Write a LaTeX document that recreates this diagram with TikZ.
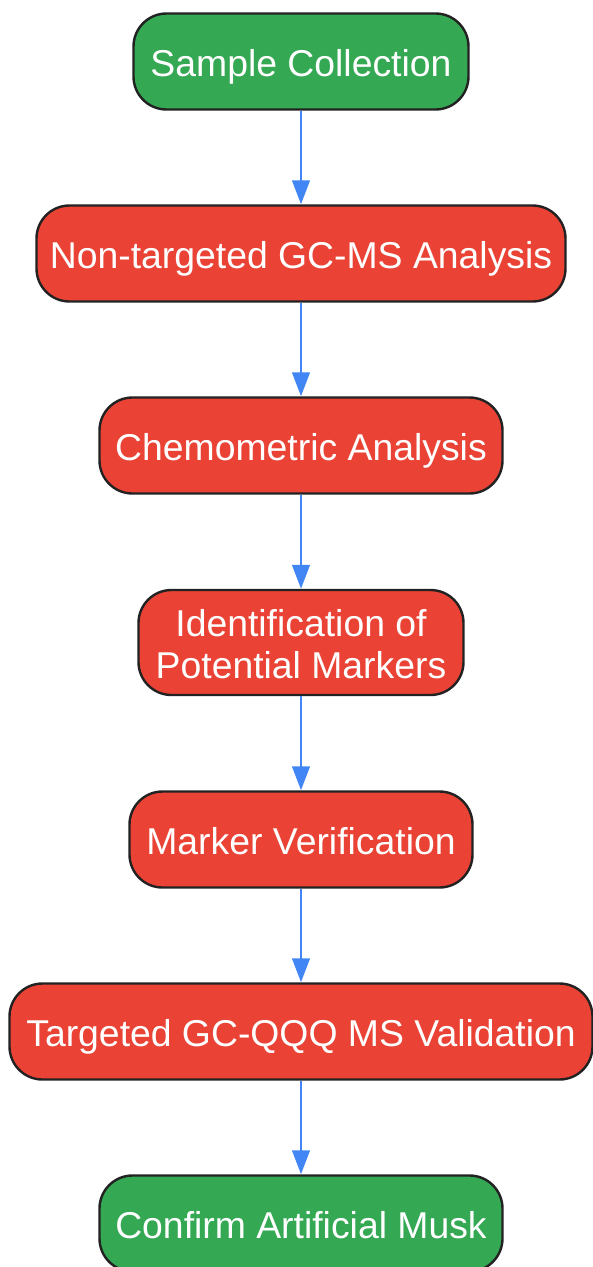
\documentclass[tikz,border=0pt]{standalone}
\usepackage{fontspec}
\setmainfont{Liberation Sans}
\usetikzlibrary{arrows.meta}
\definecolor{gr}{HTML}{34A853}
\definecolor{rd}{HTML}{EA4335}
\definecolor{bl}{HTML}{4285F4}
\definecolor{ed}{HTML}{222222}
\tikzset{x=1pt,y=-1pt,
 flowbox/.style={draw=ed,line width=2.4pt,rounded corners=33pt,text=white,align=center,font=\fontsize{37.35}{42}\selectfont,inner sep=0pt,anchor=center},
 oneline/.style={flowbox,minimum height=96pt,text height=35pt,text depth=6pt},
 conn/.style={draw=bl,line width=2.8pt,-{Triangle[length=24pt,width=17.5pt,fill=bl]},shorten >=0pt}}
\begin{document}
\begin{tikzpicture}
\useasboundingbox (0,0) rectangle (592,1267);
\node[oneline,fill=gr,minimum width=335pt] (a) at (301,61.5) {Sample Collection};
\node[oneline,fill=rd,minimum width=529pt] (b) at (301,253.5) {Non-targeted GC-MS Analysis};
\node[oneline,fill=rd,minimum width=403pt] (c) at (301,445.5) {Chemometric Analysis};
\node[flowbox,fill=rd,minimum width=325pt,minimum height=105pt] (d) at (301,642.5) {\rule{0pt}{29.5pt}Identification of\\Potential Markers};
\node[oneline,fill=rd,minimum width=343pt] (e) at (301,839.5) {Marker Verification};
\node[oneline,fill=rd,minimum width=583pt] (f) at (301,1031.5) {Targeted GC-QQQ MS Validation};
\node[oneline,fill=gr,minimum width=403pt] (g) at (301,1223.5) {Confirm Artificial Musk};
\draw[conn] (a) -- (b);
\draw[conn] (b) -- (c);
\draw[conn] (c) -- (d);
\draw[conn] (d) -- (e);
\draw[conn] (e) -- (f);
\draw[conn] (f) -- (g);
\end{tikzpicture}
\end{document}
